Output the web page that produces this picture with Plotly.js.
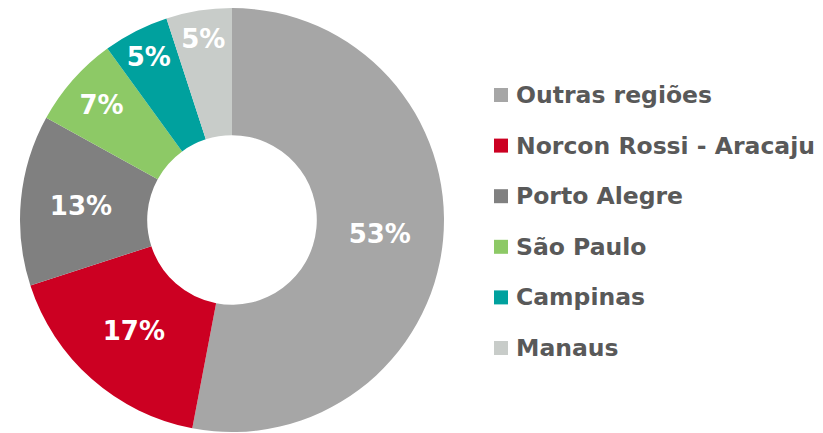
<!DOCTYPE html>
<html>
<head>
<meta charset="utf-8">
<script src="https://cdn.plot.ly/plotly-3.0.1.min.js"></script>
<style>html,body{margin:0;padding:0;background:#fff;}#chart{width:823px;height:433px;}</style>
</head>
<body>
<div id="chart"></div>
<script>
const labels = ["Outras regiões", "Norcon Rossi - Aracaju", "Porto Alegre", "São Paulo", "Campinas", "Manaus"];
const values = [53, 17, 13, 7, 5, 5];
const colors = ["#A6A6A6", "#CC0022", "#808080", "#8DC966", "#00A19E", "#C8CCC9"];

const W = 823, H = 433;
const cx = 232, cy = 220, R = 212;

const trace = {
  type: "pie",
  labels: labels,
  values: values,
  sort: false,
  direction: "clockwise",
  rotation: 0,
  hole: 0.4,
  marker: {colors: colors, line: {width: 0}},
  texttemplate: "%{percent:.0%}",
  textposition: "inside",
  insidetextorientation: "horizontal",
  insidetextfont: {family: "DejaVu Sans", size: 26, color: "#FFFFFF", weight: "bold"},
  domain: {x: [(cx - R) / W, (cx + R) / W], y: [(H - cy - R) / H, (H - cy + R) / H]},
  showlegend: false,
  hoverinfo: "none"
};

// legend built from labels/colors
const legX = 494, legTextX = 514, legY0 = 95, legStep = 50.6, sq = 14;
const shapes = [], annotations = [];
labels.forEach((lab, i) => {
  const yc = legY0 + i * legStep;
  shapes.push({
    type: "rect", xref: "paper", yref: "paper",
    x0: legX / W, x1: (legX + sq) / W,
    y0: (H - yc - sq / 2) / H, y1: (H - yc + sq / 2) / H,
    fillcolor: colors[i], line: {width: 0}
  });
  annotations.push({
    xref: "paper", yref: "paper", x: legTextX / W, y: (H - yc) / H,
    xanchor: "left", yanchor: "middle", showarrow: false,
    text: "<b>" + lab + "</b>",
    font: {family: "DejaVu Sans", size: 23.5, color: "#595959"}
  });
});

const layout = {
  width: W, height: H,
  margin: {l: 0, r: 0, t: 0, b: 0},
  paper_bgcolor: "#FFFFFF",
  showlegend: false,
  shapes: shapes,
  annotations: annotations
};

Plotly.newPlot("chart", [trace], layout, {displayModeBar: false, staticPlot: true});
</script>
</body>
</html>
